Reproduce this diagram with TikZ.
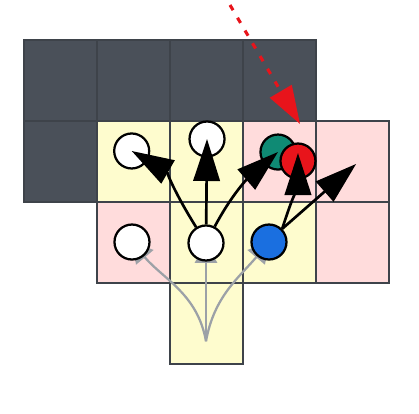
\documentclass[tikz,border=0pt]{standalone}
\usetikzlibrary{arrows.meta,backgrounds}
\definecolor{slate}{HTML}{4A5059}
\definecolor{gridline}{HTML}{3E434A}
\definecolor{cream}{HTML}{FEFCCE}
\definecolor{blush}{HTML}{FFDCDC}
\definecolor{tealdot}{HTML}{0F8A74}
\definecolor{reddot}{HTML}{E8141B}
\definecolor{bluedot}{HTML}{1A6FE0}
\definecolor{greyarrow}{HTML}{9CA1A7}
\begin{document}
\begin{tikzpicture}[x=1.825cm, y=2.025cm,
  cell/.style={draw=gridline, line width=1.9pt, minimum width=1.825cm, minimum height=2.025cm, inner sep=0pt},
  dot/.style={circle, draw=black, line width=1.6pt, minimum size=0.875cm, inner sep=0pt},
  move/.style={-{Triangle[length=1.05cm, width=0.66cm]}, line width=1.9pt},
  ghost/.style={-{Triangle[length=0.5cm, width=0.56cm]}, draw=greyarrow, color=greyarrow, line width=1.6pt},
  hinted/.style={-{Triangle[length=0.95cm, width=0.62cm]}, draw=reddot, color=reddot, line width=2.2pt, dash pattern=on 0.15cm off 0.22cm}]
\useasboundingbox (-0.329,0.494) rectangle (5.411,-4.605);
% pieces on the board
\node[dot, fill=white] (tl) at (1.475,-1.370) {};
\node[dot, fill=white] (tm) at (2.507,-1.222) {};
\node[dot, fill=tealdot] (teal) at (3.479,-1.383) {};
\node[dot, fill=reddot] (red) at (3.753,-1.494) {};
\node[dot, fill=white] (ml) at (1.479,-2.494) {};
\node[dot, fill=white] (mid) at (2.493,-2.506) {};
\node[dot, fill=bluedot] (blue) at (3.356,-2.494) {};
\coordinate (root) at (2.493,-3.72);
\coordinate (reach) at (4.55,-1.53);
\coordinate (hint) at (2.822,0.432);
\coordinate (drop) at (3.781,-1.037);
\begin{scope}[on background layer]
\foreach \c/\r/\col in {0/0/slate, 1/0/slate, 2/0/slate, 3/0/slate, 0/1/slate,
  1/1/cream, 2/1/cream, 3/1/blush, 4/1/blush,
  1/2/blush, 2/2/cream, 3/2/cream, 4/2/blush, 2/3/cream}
  \node[cell, fill=\col] (cell\c\r) at (\c+0.5,-\r-0.5) {};
% grey moves sit under the pieces
\draw[ghost] (root) to[out=100, in=-50] (ml.center);
\draw[ghost] (root) -- (mid.center);
\draw[ghost] (root) to[out=80, in=-130] (blue.center);
\end{scope}
\draw[move] (mid) to[out=122, in=-30] (tl.center);
\draw[move] (mid) -- (tm.center);
\draw[move] (mid) to[out=62, in=-139] (teal.center);
\draw[move] (blue.45) to[out=72, in=-90] ([yshift=0.2cm]red.center);
\draw[move] (blue.45) -- (reach);
\draw[hinted] (hint) -- (drop);
\end{tikzpicture}
\end{document}
